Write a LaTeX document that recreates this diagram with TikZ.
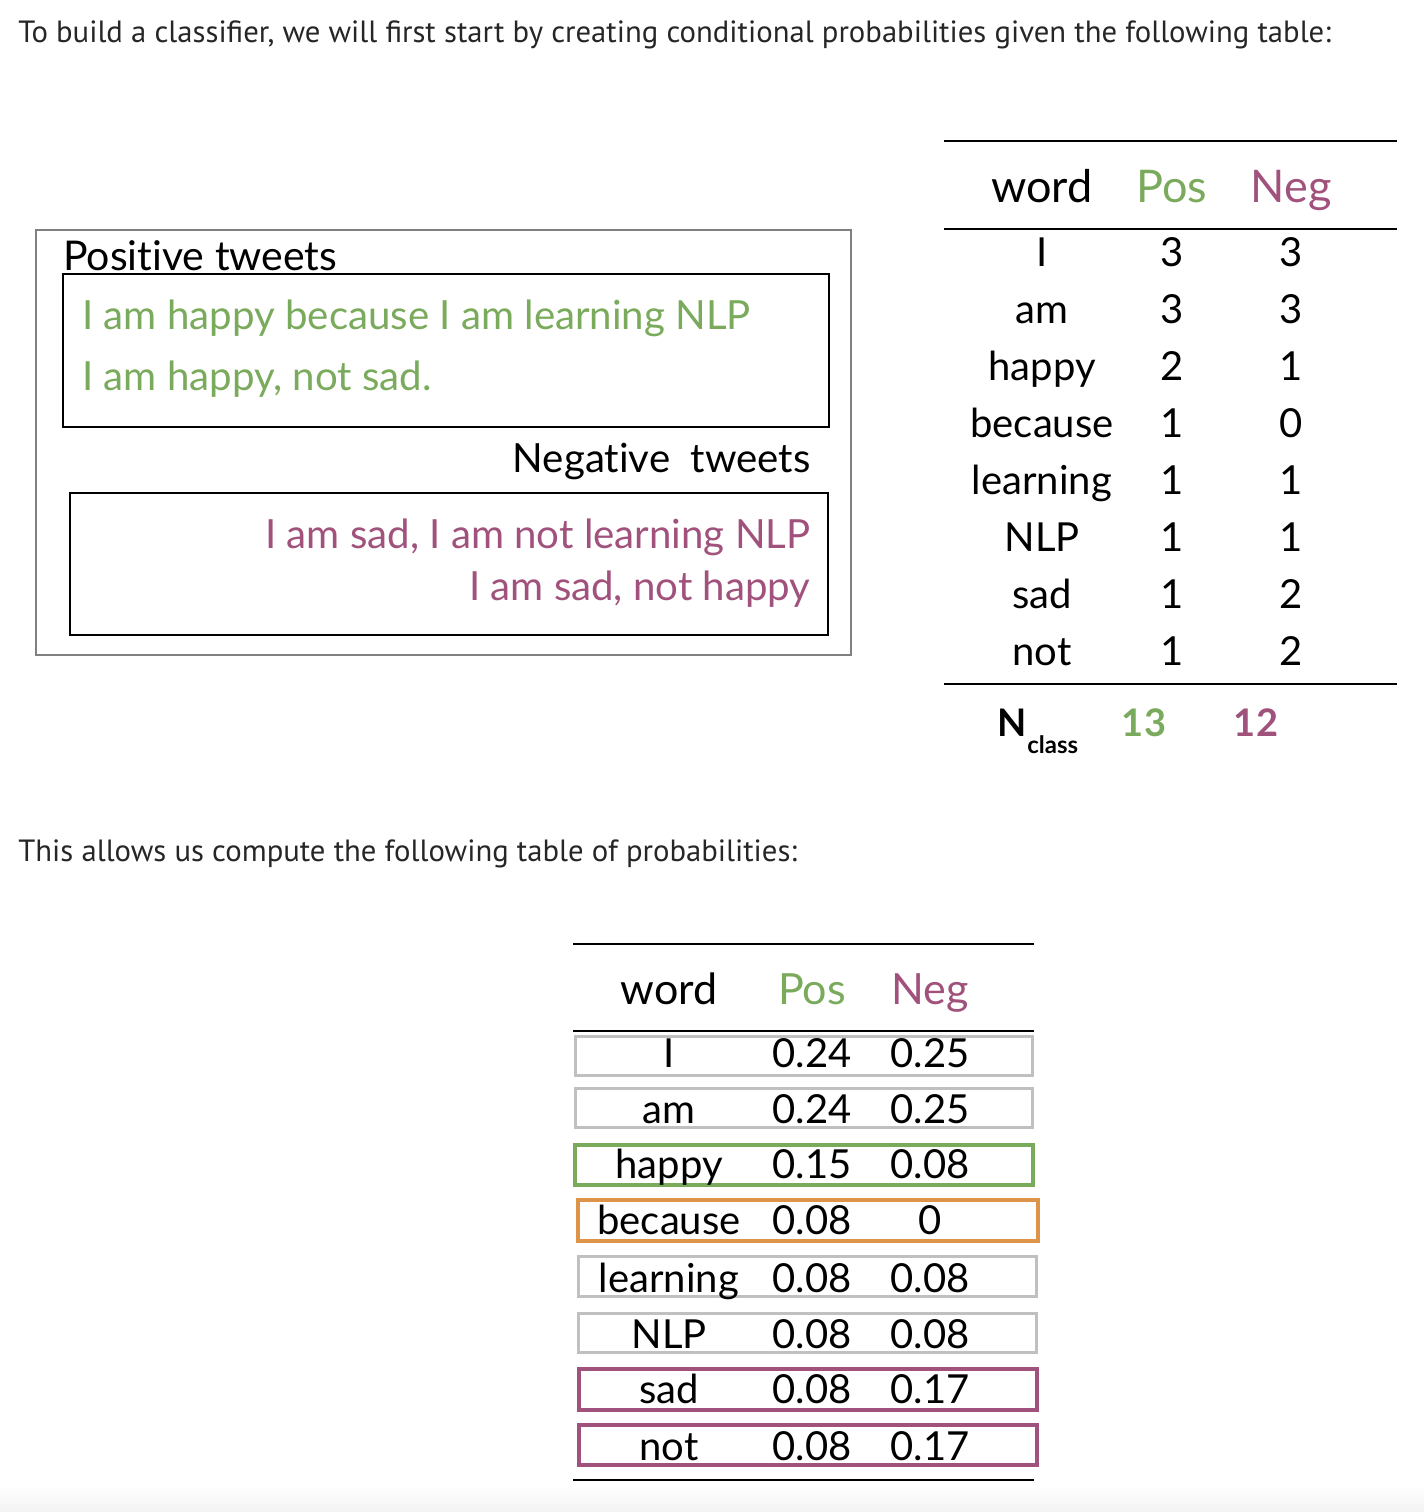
\documentclass[tikz,border=0pt]{standalone}
\usepackage{fontspec}
\setmainfont{Lato}[Ligatures=NoCommon]
\newfontfamily\capfont{PT Sans}
\definecolor{posgreen}{RGB}{122,170,92}
\definecolor{negpink}{RGB}{160,82,124}
\definecolor{hlorange}{RGB}{222,148,72}
\definecolor{rowgray}{RGB}{192,192,192}

\begin{document}
\begin{tikzpicture}[x=0.5pt, y=-0.5pt,
  caption/.style={anchor=base west, inner sep=0pt, text=black!85, font=\capfont\fontsize{15.35}{18}\selectfont},
  tweet/.style={inner sep=0pt, font=\fontsize{20.1}{23}\selectfont},
  head/.style={anchor=base, inner sep=0pt, font=\fontsize{22.5}{26}\selectfont},
  cell/.style={anchor=base, inner sep=0pt, font=\fontsize{20}{24}\selectfont},
  rule/.style={line width=1pt}]
  \useasboundingbox (0,0) rectangle (1424,1512);
  \fill[top color=white, bottom color=black!5, draw=none] (0,1486) rectangle (1424,1512);

  % captions
  \node[caption] (cap1) at (18,42) {To build a classifier, we will first start by creating conditional probabilities given the following table:};
  \node[caption] (cap2) at (18,861) {This allows us compute the following table of probabilities:};

  % tweets
  \draw[black!50, line width=0.75pt] (36,230) rectangle (851,655);
  \draw[line width=0.75pt] (63,274) rectangle (829,427);
  \draw[line width=0.75pt] (70,493) rectangle (828,635);
  \node[tweet, anchor=base west, font=\fontsize{20.5}{24}\selectfont] (postit) at (63,270) {Positive tweets};
  \node[tweet, anchor=base west, text=posgreen] (pos1) at (82,329) {I am happy because I am learning NLP};
  \node[tweet, anchor=base west, text=posgreen] (pos2) at (82,390) {I am happy, not sad.};
  \node[tweet, anchor=base east] (negtit) at (811,472) {Negative\ \ tweets};
  \node[tweet, anchor=base east, text=negpink] (neg1) at (811,548) {I am sad, I am not learning NLP};
  \node[tweet, anchor=base east, text=negpink] (neg2) at (811,600) {I am sad, not happy};

  % counts
  \draw[rule] (944,141) -- (1397,141);
  \draw[rule] (944,229) -- (1397,229);
  \draw[rule] (944,684) -- (1397,684);
  \node[head] (hword) at (1042,202) {word};
  \node[head, text=posgreen] (hpos) at (1172,202) {Pos};
  \node[head, text=negpink] (hneg) at (1291,202) {Neg};
  \foreach \w/\p/\n [count=\i] in {I/3/3, am/3/3, happy/2/1, because/1/0, learning/1/1, NLP/1/1, sad/1/2, not/1/2} {
    \node[cell] (cw\i) at (1042,{266+57*(\i-1)}) {\w};
    \node[cell] (cp\i) at (1172,{266+57*(\i-1)}) {\p};
    \node[cell] (cn\i) at (1291,{266+57*(\i-1)}) {\n};
  }
  \node[cell, anchor=base east, font=\bfseries\fontsize{19}{22}\selectfont] (ncl) at (1027,736) {N};
  \node[inner sep=0pt, anchor=base west, font=\bfseries\fontsize{12}{14}\selectfont] (nsub) at ([yshift=-8.5pt]ncl.base east) {class};
  \node[cell, font=\bfseries\fontsize{19}{22}\selectfont, text=posgreen] (npos) at (1144,736) {13};
  \node[cell, font=\bfseries\fontsize{19}{22}\selectfont, text=negpink] (nneg) at (1256,736) {12};

  % probabilities
  \draw[rule] (573,944) -- (1034,944);
  \draw[rule] (573,1031) -- (1034,1031);
  \draw[rule] (573,1480) -- (1034,1480);
  \node[head, font=\fontsize{21.5}{25}\selectfont] (pword) at (669,1004) {word};
  \node[head, font=\fontsize{21.5}{25}\selectfont, text=posgreen] (ppos) at (812,1004) {Pos};
  \node[head, font=\fontsize{21.5}{25}\selectfont, text=negpink] (pneg) at (930,1004) {Neg};
  \foreach \w/\p/\n/\c/\lw/\xa/\ya/\xb/\yb/\bl [count=\i] in {
      I/0.24/0.25/rowgray/1.5/575.5/1036.5/1032.5/1075.5/1067,
      am/0.24/0.25/rowgray/1.5/575.5/1088.5/1032.5/1127.5/1123,
      happy/0.15/0.08/posgreen/2/575/1145/1033/1185/1178,
      because/0.08/0/hlorange/2.2/578/1200/1038/1241/1234,
      learning/0.08/0.08/rowgray/1.5/578.5/1256.5/1036.5/1296.5/1292,
      NLP/0.08/0.08/rowgray/1.5/578.5/1313.5/1036.5/1352.5/1348,
      sad/0.08/0.17/negpink/2/579/1369/1037/1410/1403,
      not/0.08/0.17/negpink/2/579/1425/1037/1465/1460} {
    \draw[draw=\c, line width=\lw pt] (\xa,\ya) rectangle (\xb,\yb);
    \node[cell] (pw\i) at (669,\bl) {\w};
    \node[cell] (pp\i) at (812,\bl) {\p};
    \node[cell] (pn\i) at (930,\bl) {\n};
  }
\end{tikzpicture}
\end{document}
